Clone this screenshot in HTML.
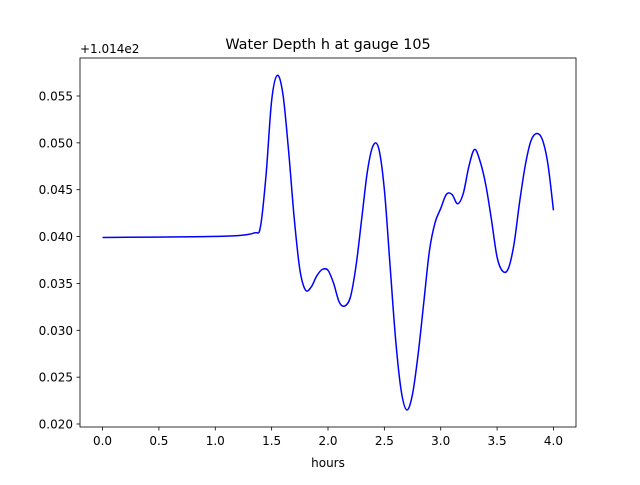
<!DOCTYPE html>
<html><head><meta charset="utf-8"><style>
body{margin:0;background:#fff}
svg text{font-family:"DejaVu Sans","Liberation Sans",sans-serif;fill:#000}
</style></head><body>
<svg id="chart" width="640" height="480">
<rect width="640" height="480" fill="#fff"/>
<text x="328" y="49" font-size="14.4" text-anchor="middle">Water Depth h at gauge 105</text>
<text x="80" y="53" font-size="12">+1.014e2</text>
<text x="328" y="467" font-size="12" text-anchor="middle">hours</text>
<g id="ticks"></g>
<path id="line" fill="none" stroke="#0000ff" stroke-width="1.5"/>
<rect x="80" y="58" width="496" height="369" fill="none" stroke="#000" stroke-width="0.8"/>
</svg>
<script>
const xs=[0,0.9,1.2,1.35,1.4,1.45,1.5,1.55,1.6,1.65,1.7,1.75,1.8,1.85,1.9,1.95,2.0,2.05,2.1,2.15,2.2,2.25,2.3,2.35,2.4,2.45,2.5,2.55,2.6,2.65,2.7,2.75,2.8,2.85,2.9,2.95,3.0,3.05,3.1,3.15,3.2,3.25,3.3,3.35,3.4,3.45,3.5,3.55,3.6,3.65,3.7,3.75,3.8,3.85,3.9,3.95,4.0];
const ys=[0.0399,0.0400,0.0401,0.0404,0.0410,0.0465,0.0545,0.0572,0.0552,0.0492,0.0420,0.0365,0.0343,0.0346,0.0358,0.0365,0.0364,0.0350,0.0330,0.0326,0.0336,0.0370,0.0420,0.0470,0.0497,0.0494,0.0450,0.0370,0.0290,0.0235,0.0215,0.0232,0.0275,0.0330,0.0385,0.0415,0.0430,0.0445,0.0445,0.0435,0.0446,0.0475,0.0493,0.0480,0.0455,0.0418,0.0378,0.0363,0.0366,0.0392,0.0437,0.0476,0.0502,0.0510,0.0504,0.0478,0.0428];
const xTicks=[0,0.5,1,1.5,2,2.5,3,3.5,4];
const xTickLabels=["0.0","0.5","1.0","1.5","2.0","2.5","3.0","3.5","4.0"];
const yTicks=[0.020,0.025,0.030,0.035,0.040,0.045,0.050,0.055];
const yTickLabels=["0.020","0.025","0.030","0.035","0.040","0.045","0.050","0.055"];
const X=v=>80+(v+0.2)/4.4*496;
const Y=v=>424-(v-0.020)/0.005*46.857;
const ns="http://www.w3.org/2000/svg";
const g=document.getElementById('ticks');
function mk(t,a){const e=document.createElementNS(ns,t);for(const k in a)e.setAttribute(k,a[k]);g.appendChild(e);return e;}
xTicks.forEach((v,i)=>{
 const l=mk('line',{x1:X(v),x2:X(v),y1:427,y2:430.5,stroke:'#000','stroke-width':0.8});
 
 
 const t=mk('text',{x:X(v),y:445,'font-size':12,'text-anchor':'middle'});t.textContent=xTickLabels[i];
 
 
});
yTicks.forEach((v,i)=>{
 const l=mk('line',{x1:76.5,x2:80,y1:Y(v),y2:Y(v),stroke:'#000','stroke-width':0.8});
 
 
 const t=mk('text',{x:73,y:Y(v)+4.5,'font-size':12,'text-anchor':'end'});t.textContent=yTickLabels[i];
 
 
});
// Catmull-Rom smooth path
const P=xs.map((x,i)=>[X(x),Y(ys[i])]);
let d=`M${P[0][0]},${P[0][1]}`;
for(let i=0;i<P.length-1;i++){
 const p0=P[Math.max(0,i-1)],p1=P[i],p2=P[i+1],p3=P[Math.min(P.length-1,i+2)];
 const c1=[p1[0]+(p2[0]-p0[0])/6,p1[1]+(p2[1]-p0[1])/6];
 const c2=[p2[0]-(p3[0]-p1[0])/6,p2[1]-(p3[1]-p1[1])/6];
 d+=` C${c1[0]},${c1[1]} ${c2[0]},${c2[1]} ${p2[0]},${p2[1]}`;
}
document.getElementById('line').setAttribute('d',d);
</script>
</body></html>
